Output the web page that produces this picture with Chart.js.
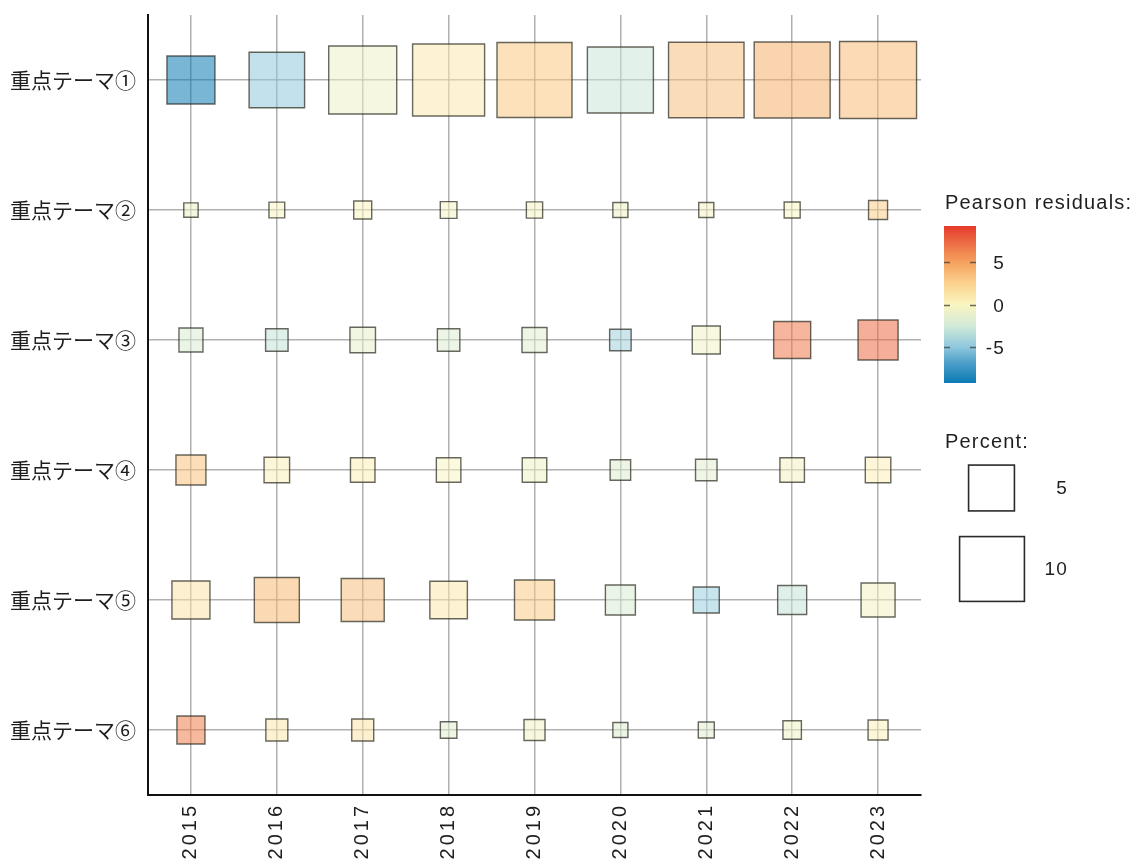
<!DOCTYPE html>
<html>
<head>
<meta charset="utf-8">
<script src="https://cdn.jsdelivr.net/npm/chart.js@4.4.1/dist/chart.umd.min.js"></script>
<style>
  html, body { margin: 0; padding: 0; background: #ffffff; }
  #wrap { width: 1137px; height: 864px; position: relative; }
</style>
</head>
<body>
<div id="wrap"><canvas id="c" width="1137" height="864"></canvas></div>
<script>
// Categories
const years = ['2015', '2016', '2017', '2018', '2019', '2020', '2021', '2022', '2023'];
const themes = ['重点テーマ①', '重点テーマ②', '重点テーマ③', '重点テーマ④', '重点テーマ⑤', '重点テーマ⑥'];

// Percent share per theme and year (box area)
const pctTheme1 = [5.48, 7.33, 11.00, 12.34, 13.38, 10.37, 13.56, 13.74, 14.11];
const pctTheme2 = [0.49, 0.59, 0.77, 0.66, 0.63, 0.54, 0.54, 0.61, 0.86];
const pctTheme3 = [1.37, 1.20, 1.55, 1.20, 1.49, 1.10, 1.87, 3.26, 3.81];
const pctTheme4 = [2.14, 1.55, 1.43, 1.43, 1.43, 1.00, 1.10, 1.43, 1.55];
const pctTheme5 = [3.44, 4.82, 4.40, 3.35, 3.81, 2.14, 1.61, 2.00, 2.75];
const pctTheme6 = [1.87, 1.15, 1.15, 0.65, 1.05, 0.54, 0.61, 0.81, 0.95];

// Pearson residuals per theme and year (box colour)
const resTheme1 = [-9.3, -5.0, -0.8, 0.8, 3.0, -2.8, 3.4, 4.2, 3.6];
const resTheme2 = [-0.9, -0.2, 0.1, -0.3, -0.3, -0.5, -0.3, -0.2, 2.6];
const resTheme3 = [-2.0, -3.0, -1.2, -1.7, -1.6, -4.3, -0.5, 6.8, 7.3];
const resTheme4 = [3.3, 0.3, 0.5, -0.2, -0.7, -1.8, -1.6, -0.4, 0.4];
const resTheme5 = [1.2, 3.8, 3.4, 1.0, 2.8, -2.0, -4.6, -3.0, -0.4];
const resTheme6 = [6.5, 1.0, 1.2, -1.5, -0.5, -1.8, -1.5, -0.7, 0.3];

// Legend keys
const residualTicks = [5, 0, -5];
const residualLimit = 9.3;
const percentKeys = [5, 10];

const pctRows = [pctTheme1, pctTheme2, pctTheme3, pctTheme4, pctTheme5, pctTheme6];
const resRows = [resTheme1, resTheme2, resTheme3, resTheme4, resTheme5, resTheme6];

// Diverging palette: blue (negative) -> pale yellow (0) -> red (positive)
const paletteStops = [
  [-9.3, [11, 122, 181]],
  [-7.0, [75, 157, 200]],
  [-5.0, [144, 200, 222]],
  [-2.5, [210, 234, 216]],
  [0.0,  [251, 245, 193]],
  [2.5,  [251, 210, 142]],
  [5.0,  [244, 161, 94]],
  [7.0,  [238, 116, 72]],
  [9.3,  [229, 57, 43]]
];
function residualRGB(v) {
  const s = paletteStops;
  if (v <= s[0][0]) return s[0][1];
  if (v >= s[s.length - 1][0]) return s[s.length - 1][1];
  for (let i = 0; i < s.length - 1; i++) {
    const [a, ca] = s[i], [b, cb] = s[i + 1];
    if (v >= a && v <= b) {
      const t = (v - a) / (b - a);
      return ca.map((c, k) => Math.round(c + (cb[k] - c) * t));
    }
  }
  return s[0][1];
}
function residualColor(v, alpha) {
  const c = residualRGB(v);
  return `rgba(${c[0]},${c[1]},${c[2]},${alpha})`;
}
// Square side in pixels: area proportional to percent
function boxSide(p) { return 20.5 * Math.sqrt(p); }

const points = [];
themes.forEach((t, i) => {
  years.forEach((y, j) => {
    points.push({ x: y, y: t, pct: pctRows[i][j], res: resRows[i][j] });
  });
});

const textColor = '#1e1e1e';
const uiFont = '"Liberation Sans", Arial, sans-serif';

// Adds letter spacing to the year labels on the x axis
const spacedTicks = {
  id: 'spacedTicks',
  afterLayout(chart) {
    const sc = chart.scales.x;
    if (!sc || sc._spacedWrap) return;
    const orig = sc.drawLabels;
    sc.drawLabels = function (area) {
      const ctx = this.ctx;
      const old = ctx.letterSpacing;
      ctx.letterSpacing = '3px';
      orig.call(this, area);
      ctx.letterSpacing = old || '0px';
    };
    sc._spacedWrap = true;
  }
};

// Colour bar and size key on the right
const sideLegend = {
  id: 'sideLegend',
  afterDraw(chart) {
    const ctx = chart.ctx;
    ctx.save();
    ctx.letterSpacing = '1.2px';
    ctx.fillStyle = textColor;
    ctx.font = `20px ${uiFont}`;
    ctx.textAlign = 'left';
    ctx.textBaseline = 'alphabetic';
    ctx.fillText('Pearson residuals:', 945, 209);

    // colour bar
    const bx = 944, bw = 32, top = 226, bottom = 383;
    const grad = ctx.createLinearGradient(0, bottom, 0, top);
    paletteStops.forEach(([v, c]) => {
      const t = (v + residualLimit) / (2 * residualLimit);
      grad.addColorStop(Math.min(1, Math.max(0, t)), `rgb(${c[0]},${c[1]},${c[2]})`);
    });
    ctx.fillStyle = grad;
    ctx.fillRect(bx, top, bw, bottom - top);

    const vy = v => bottom - (v + residualLimit) / (2 * residualLimit) * (bottom - top);
    ctx.strokeStyle = 'rgba(70,70,70,0.8)';
    ctx.lineWidth = 1.5;
    ctx.font = `19px ${uiFont}`;
    ctx.textAlign = 'right';
    ctx.textBaseline = 'middle';
    residualTicks.forEach(v => {
      const y = Math.round(vy(v)) + 0.5;
      ctx.beginPath();
      ctx.moveTo(bx, y); ctx.lineTo(bx + 6, y);
      ctx.moveTo(bx + bw - 6, y); ctx.lineTo(bx + bw, y);
      ctx.stroke();
      ctx.fillStyle = textColor;
      ctx.fillText(String(v), 1005, y + 1);
    });

    // size key
    ctx.font = `20px ${uiFont}`;
    ctx.textAlign = 'left';
    ctx.textBaseline = 'alphabetic';
    ctx.fillText('Percent:', 945, 448);
    const centers = [[991.5, 488], [992, 569]];
    ctx.strokeStyle = '#2a2a2a';
    ctx.lineWidth = 1.6;
    percentKeys.forEach((p, k) => {
      const s = boxSide(p);
      const [cx, cy] = centers[k];
      ctx.strokeRect(cx - s / 2, cy - s / 2, s, s);
      ctx.font = `19px ${uiFont}`;
      ctx.textAlign = 'right';
      ctx.textBaseline = 'middle';
      ctx.fillText(String(p), 1068, cy + 1);
    });
    ctx.restore();
  }
};

new Chart(document.getElementById('c'), {
  type: 'scatter',
  data: {
    datasets: [{
      data: points,
      pointStyle: 'rect',
      pointRadius: c => boxSide(c.raw.pct) / Math.SQRT2,
      pointHoverRadius: c => boxSide(c.raw.pct) / Math.SQRT2,
      backgroundColor: c => residualColor(c.raw.res, 0.55),
      borderColor: 'rgba(40,40,30,0.7)',
      borderWidth: 1.4,
      clip: false
    }]
  },
  options: {
    responsive: false,
    animation: false,
    events: [],
    layout: { autoPadding: false, padding: { top: 15, right: 216, left: 0, bottom: 0 } },
    plugins: { legend: { display: false }, tooltip: { enabled: false } },
    scales: {
      x: {
        type: 'category',
        labels: years,
        offset: true,
        position: 'bottom',
        grid: { offset: false, color: 'rgba(150,150,150,0.75)', lineWidth: 1.5, drawTicks: false },
        border: { color: '#111111', width: 2 },
        ticks: {
          autoSkip: false, minRotation: 90, maxRotation: 90, padding: 8,
          color: textColor, font: { family: uiFont, size: 20 }
        },
        afterFit: s => { s.height = 69; s.paddingLeft = 0; s.paddingRight = 0; }
      },
      y: {
        type: 'category',
        labels: themes,
        offset: true,
        position: 'left',
        grid: { offset: false, color: 'rgba(150,150,150,0.75)', lineWidth: 1.5, drawTicks: false },
        border: { color: '#111111', width: 2 },
        ticks: {
          autoSkip: false, padding: 12,
          color: textColor, font: { family: '"Noto Sans CJK JP", sans-serif', size: 21 }
        },
        afterFit: s => { s.width = 148; s.paddingTop = 0; s.paddingBottom = 0; }
      }
    }
  },
  plugins: [spacedTicks, sideLegend]
});
</script>
</body>
</html>
